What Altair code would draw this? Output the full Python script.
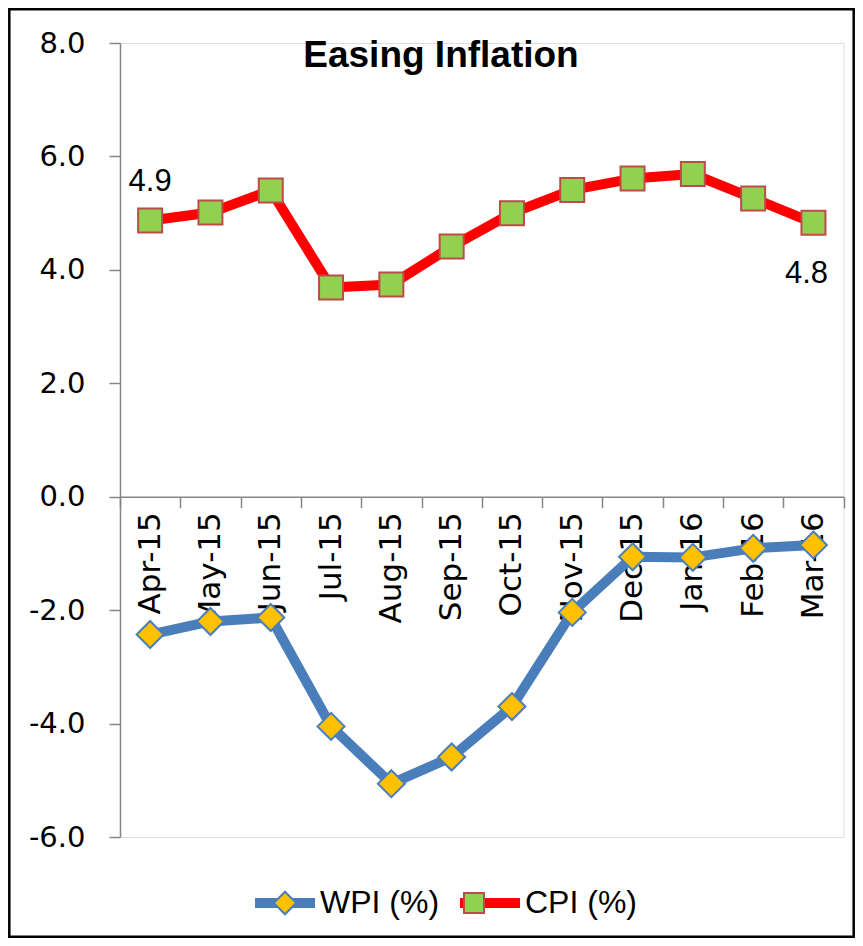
import altair as alt
import pandas as pd

months = ["Apr-15", "May-15", "Jun-15", "Jul-15", "Aug-15", "Sep-15",
          "Oct-15", "Nov-15", "Dec-15", "Jan-16", "Feb-16", "Mar-16"]
wpi = [-2.43, -2.20, -2.13, -4.05, -5.06, -4.59, -3.70, -2.04, -1.06, -1.07, -0.91, -0.85]
cpi = [4.87, 5.01, 5.40, 3.69, 3.74, 4.41, 5.00, 5.41, 5.61, 5.69, 5.26, 4.83]
series_names = ["WPI (%)", "CPI (%)"]
y_ticks = [-6, -4, -2, 0, 2, 4, 6, 8]
y_domain = [-6, 8]
title_text = "Easing Inflation"

rows = []
for i, (m, w, c) in enumerate(zip(months, wpi, cpi)):
    rows.append({"month": m, "idx": i, "series": series_names[0], "value": w})
    rows.append({"month": m, "idx": i, "series": series_names[1], "value": c})
df = pd.DataFrame(rows)
df["series_m"] = df["series"]

W = 723.6
H = 794.0
TOTAL_W = 847
TOTAL_H = 930
PAD_L, PAD_T = 112, 35
AXIS_GRAY = "#868686"
zero_offset = -H * (0 - y_domain[0]) / (y_domain[1] - y_domain[0])

x_enc = alt.X(
    "month:N", sort=months,
    scale=alt.Scale(type="band", paddingInner=0, paddingOuter=0),
    axis=alt.Axis(
        title=None, orient="bottom", offset=zero_offset, labelAngle=270,
        labelAlign="right", labelBaseline="middle",
        labelFont="DejaVu Sans", labelFontSize=31, labelColor="black",
        labelPadding=4, tickSize=11, tickColor=AXIS_GRAY, tickWidth=1.5,
        domainColor=AXIS_GRAY, domainWidth=1.5, tickBand="extent", grid=False,
    ),
)
y_enc = alt.Y(
    "value:Q",
    scale=alt.Scale(domain=y_domain, nice=False, zero=False),
    axis=alt.Axis(
        title=None, values=y_ticks,
        labelExpr="(datum.value < 0 ? '-' : '') + format(abs(datum.value), '.1f')",
        labelFont="DejaVu Sans", labelFontSize=29, labelColor="black",
        labelPadding=24, tickSize=11, tickColor=AXIS_GRAY, tickWidth=1.5,
        domainColor=AXIS_GRAY, domainWidth=1.5, grid=False,
    ),
)

base = alt.Chart(df)

lines = base.mark_line(strokeWidth=10, strokeJoin="round").encode(
    x=x_enc, y=y_enc,
    order=alt.Order("idx:Q"),
    color=alt.Color(
        "series:N",
        scale=alt.Scale(domain=series_names, range=["#4A7EBB", "#FF0000"]),
        legend=alt.Legend(
            orient="none", legendX=130, legendY=825, direction="horizontal",
            title=None, symbolType="M-1,0L1,0", symbolSize=3600,
            symbolStrokeWidth=10, labelFont="Liberation Sans", labelFontSize=32,
            labelColor="black", labelOffset=0, columnPadding=0, padding=0,
        ),
    ),
)

diamond = "M0,-0.45L0.45,0L0,0.45L-0.45,0Z"
square = "M-0.4,-0.4L0.4,-0.4L0.4,0.4L-0.4,0.4Z"
pt_legend = alt.Legend(
    orient="none", legendX=139, legendY=834, direction="horizontal",
    title=None, symbolSize=2500, symbolStrokeWidth=2,
    labelExpr="''", labelFontSize=32,
    labelOffset=0, columnPadding=137, padding=0,
)
points = base.mark_point(filled=True, opacity=1, size=3600, strokeWidth=2).encode(
    x=x_enc, y=y_enc,
    fill=alt.Fill("series_m:N", sort="descending",
                  scale=alt.Scale(range=["#FFC000", "#92D050"]), legend=pt_legend),
    stroke=alt.Stroke("series_m:N", sort="descending",
                      scale=alt.Scale(range=["#4A7EBB", "#BE4B48"]), legend=pt_legend),
    shape=alt.Shape("series_m:N", sort="descending",
                    scale=alt.Scale(range=[diamond, square]), legend=pt_legend),
)

lab_first = base.transform_filter(
    (alt.datum.series == series_names[1]) & (alt.datum.month == months[0])
).mark_text(dy=-39, font="Liberation Sans", fontSize=31, color="black").encode(
    x=x_enc, y=y_enc, text=alt.Text("value:Q", format=".1f"))
lab_last = base.transform_filter(
    (alt.datum.series == series_names[1]) & (alt.datum.month == months[-1])
).mark_text(dx=-7, dy=51, font="Liberation Sans", fontSize=31, color="black").encode(
    x=x_enc, y=y_enc, text=alt.Text("value:Q", format=".1f"))

title = alt.Chart(alt.Data(values=[{"t": title_text}])).mark_text(
    font="Liberation Sans", fontSize=37, fontWeight="bold", color="black",
    align="center", baseline="alphabetic",
).encode(text="t:N", x=alt.value(321), y=alt.value(24))

frame = alt.Chart(alt.Data(values=[{"f": 1}])).mark_rect(
    filled=False, stroke="black", strokeWidth=2.5
).encode(
    x=alt.value(-PAD_L + 1.3), x2=alt.value(TOTAL_W - PAD_L - 1.3),
    y=alt.value(-PAD_T + 1.3), y2=alt.value(TOTAL_H - PAD_T - 1.3),
)

chart = alt.layer(lines, points, lab_first, lab_last, title, frame).properties(
    width=W, height=H,
    autosize=alt.AutoSizeParams(type="none"),
    padding={"left": PAD_L, "top": PAD_T,
             "right": TOTAL_W - PAD_L - W, "bottom": TOTAL_H - PAD_T - H},
).configure_view(stroke="transparent").configure(background="white")

chart.save("out.html", embed_options={"renderer": "svg", "actions": False})
